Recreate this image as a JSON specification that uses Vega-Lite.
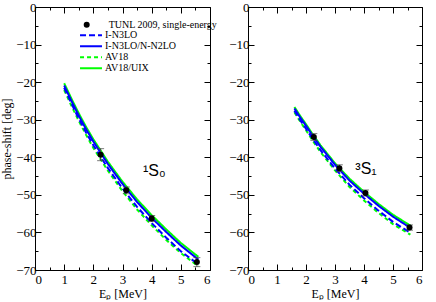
{
"$schema": "https://vega.github.io/schema/vega-lite/v6.json",
"background": "white",
"padding": {"left": 0, "top": 0, "right": 3, "bottom": 0},
"spacing": 9,
"datasets": {
"c1": [
{"E":1.0,"phase":-20.3,"series":"AV18/UIX"},{"E":1.25,"phase":-24.4,"series":"AV18/UIX"},{"E":1.5,"phase":-28.3,"series":"AV18/UIX"},{"E":1.75,"phase":-31.9,"series":"AV18/UIX"},{"E":2.0,"phase":-35.2,"series":"AV18/UIX"},{"E":2.5,"phase":-41.2,"series":"AV18/UIX"},{"E":3.0,"phase":-46.5,"series":"AV18/UIX"},{"E":3.5,"phase":-51.2,"series":"AV18/UIX"},{"E":4.0,"phase":-55.4,"series":"AV18/UIX"},{"E":4.5,"phase":-59.2,"series":"AV18/UIX"},{"E":5.0,"phase":-62.8,"series":"AV18/UIX"},{"E":5.6,"phase":-66.5,"series":"AV18/UIX"},
{"E":1.0,"phase":-22.1,"series":"AV18"},{"E":1.25,"phase":-26.3,"series":"AV18"},{"E":1.5,"phase":-30.3,"series":"AV18"},{"E":1.75,"phase":-34.0,"series":"AV18"},{"E":2.0,"phase":-37.5,"series":"AV18"},{"E":2.5,"phase":-43.6,"series":"AV18"},{"E":3.0,"phase":-49.0,"series":"AV18"},{"E":3.5,"phase":-53.9,"series":"AV18"},{"E":4.0,"phase":-58.1,"series":"AV18"},{"E":4.5,"phase":-62.0,"series":"AV18"},{"E":5.0,"phase":-65.5,"series":"AV18"},{"E":5.6,"phase":-69.0,"series":"AV18"},
{"E":1.0,"phase":-20.9,"series":"I-N3LO/N-N2LO"},{"E":1.25,"phase":-25.0,"series":"I-N3LO/N-N2LO"},{"E":1.5,"phase":-28.9,"series":"I-N3LO/N-N2LO"},{"E":1.75,"phase":-32.5,"series":"I-N3LO/N-N2LO"},{"E":2.0,"phase":-35.8,"series":"I-N3LO/N-N2LO"},{"E":2.5,"phase":-41.8,"series":"I-N3LO/N-N2LO"},{"E":3.0,"phase":-47.1,"series":"I-N3LO/N-N2LO"},{"E":3.5,"phase":-51.9,"series":"I-N3LO/N-N2LO"},{"E":4.0,"phase":-56.1,"series":"I-N3LO/N-N2LO"},{"E":4.5,"phase":-59.9,"series":"I-N3LO/N-N2LO"},{"E":5.0,"phase":-63.5,"series":"I-N3LO/N-N2LO"},{"E":5.6,"phase":-67.2,"series":"I-N3LO/N-N2LO"},
{"E":1.0,"phase":-21.5,"series":"I-N3LO"},{"E":1.25,"phase":-25.7,"series":"I-N3LO"},{"E":1.5,"phase":-29.7,"series":"I-N3LO"},{"E":1.75,"phase":-33.4,"series":"I-N3LO"},{"E":2.0,"phase":-36.8,"series":"I-N3LO"},{"E":2.5,"phase":-42.9,"series":"I-N3LO"},{"E":3.0,"phase":-48.3,"series":"I-N3LO"},{"E":3.5,"phase":-53.2,"series":"I-N3LO"},{"E":4.0,"phase":-57.5,"series":"I-N3LO"},{"E":4.5,"phase":-61.4,"series":"I-N3LO"},{"E":5.0,"phase":-65.0,"series":"I-N3LO"},{"E":5.6,"phase":-68.5,"series":"I-N3LO"}
],
"c2": [
{"E":1.6,"phase":-26.6,"series":"AV18/UIX"},{"E":1.8,"phase":-29.0,"series":"AV18/UIX"},{"E":2.0,"phase":-31.2,"series":"AV18/UIX"},{"E":2.25,"phase":-34.1,"series":"AV18/UIX"},{"E":2.5,"phase":-36.8,"series":"AV18/UIX"},{"E":3.0,"phase":-41.6,"series":"AV18/UIX"},{"E":3.5,"phase":-45.7,"series":"AV18/UIX"},{"E":4.0,"phase":-49.2,"series":"AV18/UIX"},{"E":4.5,"phase":-52.4,"series":"AV18/UIX"},{"E":5.0,"phase":-55.3,"series":"AV18/UIX"},{"E":5.6,"phase":-58.2,"series":"AV18/UIX"},
{"E":1.6,"phase":-28.0,"series":"AV18"},{"E":1.8,"phase":-30.5,"series":"AV18"},{"E":2.0,"phase":-32.8,"series":"AV18"},{"E":2.25,"phase":-35.8,"series":"AV18"},{"E":2.5,"phase":-38.6,"series":"AV18"},{"E":3.0,"phase":-43.5,"series":"AV18"},{"E":3.5,"phase":-47.9,"series":"AV18"},{"E":4.0,"phase":-51.5,"series":"AV18"},{"E":4.5,"phase":-54.8,"series":"AV18"},{"E":5.0,"phase":-57.8,"series":"AV18"},{"E":5.6,"phase":-60.6,"series":"AV18"},
{"E":1.6,"phase":-27.0,"series":"I-N3LO/N-N2LO"},{"E":1.8,"phase":-29.4,"series":"I-N3LO/N-N2LO"},{"E":2.0,"phase":-31.6,"series":"I-N3LO/N-N2LO"},{"E":2.25,"phase":-34.5,"series":"I-N3LO/N-N2LO"},{"E":2.5,"phase":-37.2,"series":"I-N3LO/N-N2LO"},{"E":3.0,"phase":-42.0,"series":"I-N3LO/N-N2LO"},{"E":3.5,"phase":-46.2,"series":"I-N3LO/N-N2LO"},{"E":4.0,"phase":-49.7,"series":"I-N3LO/N-N2LO"},{"E":4.5,"phase":-52.9,"series":"I-N3LO/N-N2LO"},{"E":5.0,"phase":-55.8,"series":"I-N3LO/N-N2LO"},{"E":5.6,"phase":-58.8,"series":"I-N3LO/N-N2LO"},
{"E":1.6,"phase":-27.6,"series":"I-N3LO"},{"E":1.8,"phase":-30.1,"series":"I-N3LO"},{"E":2.0,"phase":-32.4,"series":"I-N3LO"},{"E":2.25,"phase":-35.3,"series":"I-N3LO"},{"E":2.5,"phase":-38.1,"series":"I-N3LO"},{"E":3.0,"phase":-43.0,"series":"I-N3LO"},{"E":3.5,"phase":-47.3,"series":"I-N3LO"},{"E":4.0,"phase":-50.9,"series":"I-N3LO"},{"E":4.5,"phase":-54.2,"series":"I-N3LO"},{"E":5.0,"phase":-57.2,"series":"I-N3LO"},{"E":5.6,"phase":-60.1,"series":"I-N3LO"}
],
"p1": [
{"E":2.25,"phase":-39.3,"lo":-40.9,"hi":-37.7,"series":"TUNL 2009, single-energy"},
{"E":3.13,"phase":-48.8,"lo":-49.7,"hi":-47.9,"series":"TUNL 2009, single-energy"},
{"E":4.0,"phase":-56.3,"lo":-57.1,"hi":-55.5,"series":"TUNL 2009, single-energy"},
{"E":5.55,"phase":-67.9,"lo":-69.1,"hi":-66.7,"series":"TUNL 2009, single-energy"}
],
"p2": [
{"E":2.27,"phase":-34.6,"lo":-35.5,"hi":-33.7,"series":"TUNL 2009, single-energy"},
{"E":3.15,"phase":-42.9,"lo":-43.8,"hi":-42.0,"series":"TUNL 2009, single-energy"},
{"E":4.05,"phase":-49.5,"lo":-50.3,"hi":-48.7,"series":"TUNL 2009, single-energy"},
{"E":5.57,"phase":-58.7,"lo":-59.4,"hi":-58.0,"series":"TUNL 2009, single-energy"}
],
"t1": [{"E":3.7,"phase":-43.6,"label":"¹S₀"}],
"t2": [{"E":3.7,"phase":-43.1,"label":"³S₁"}]
},
"hconcat": [
{
"width": 175, "height": 263,
"resolve": {"axis": {"x": "independent", "y": "independent"}},
"layer": [
{"data": {"name": "c1"}, "mark": {"type": "line", "strokeWidth": 2},
 "encoding": {
  "x": {"field": "E", "type": "quantitative", "scale": {"domain": [0, 6], "nice": false, "zero": false},
        "axis": {"orient": "bottom", "values": [0,1,2,3,4,5,6], "tickSize": -6, "labelPadding": 9, "title": "Eₚ [MeV]", "titlePadding": 2}},
  "y": {"field": "phase", "type": "quantitative", "scale": {"domain": [-70, 0], "nice": false, "zero": false},
        "axis": {"orient": "left", "values": [-70,-60,-50,-40,-30,-20,-10,0], "tickSize": -6, "labelPadding": 5, "title": "phase-shift [deg]", "titlePadding": 2}},
  "color": {"field": "series", "type": "nominal",
    "scale": {"domain": ["I-N3LO","I-N3LO/N-N2LO","AV18","AV18/UIX"], "range": ["#0000ff","#0000ff","#00ff00","#00ff00"]},
    "legend": {"orient": "none", "legendX": 50.5, "legendY": 22.8, "title": null, "symbolType": "M-2.44,0H2.44", "symbolSize": 81, "symbolStrokeWidth": 2, "labelOffset": 8.5, "rowPadding": 0, "padding": 0, "labelFont": "Liberation Serif", "labelFontSize": 10, "labelColor": "black"}},
  "strokeDash": {"field": "series", "type": "nominal",
    "scale": {"domain": ["I-N3LO","I-N3LO/N-N2LO","AV18","AV18/UIX"], "range": [[6,3],[1,0],[4,3],[1,0]]},
    "legend": {"orient": "none", "legendX": 50.5, "legendY": 22.8, "title": null, "symbolType": "M-2.44,0H2.44", "symbolSize": 81, "symbolStrokeWidth": 2, "labelOffset": 8.5, "rowPadding": 0, "padding": 0, "labelFont": "Liberation Serif", "labelFontSize": 10, "labelColor": "black"}}
 }},
{"data": {"name": "p1"}, "mark": {"type": "rule", "color": "#444444", "strokeWidth": 1},
 "encoding": {
  "x": {"field": "E", "type": "quantitative", "axis": {"orient": "bottom", "values": [0.5,1.5,2.5,3.5,4.5,5.5], "tickSize": -3, "labels": false, "title": null}},
  "y": {"field": "lo", "type": "quantitative", "axis": {"orient": "left", "values": [-65,-55,-45,-35,-25,-15,-5], "tickSize": -3, "labels": false, "title": null}},
  "y2": {"field": "hi"}
 }},
{"data": {"name": "p1"}, "mark": {"type": "tick", "orient": "horizontal", "color": "#444444", "size": 7, "thickness": 1},
 "encoding": {
  "x": {"field": "E", "type": "quantitative", "axis": {"orient": "top", "values": [0,1,2,3,4,5,6], "tickSize": -6, "labels": false, "title": null}},
  "y": {"field": "lo", "type": "quantitative", "axis": {"orient": "right", "values": [-70,-60,-50,-40,-30,-20,-10,0], "tickSize": -6, "labels": false, "title": null}}
 }},
{"data": {"name": "p1"}, "mark": {"type": "tick", "orient": "horizontal", "color": "#444444", "size": 7, "thickness": 1},
 "encoding": {
  "x": {"field": "E", "type": "quantitative", "axis": {"orient": "top", "values": [0.5,1.5,2.5,3.5,4.5,5.5], "tickSize": -3, "labels": false, "title": null}},
  "y": {"field": "hi", "type": "quantitative", "axis": {"orient": "right", "values": [-65,-55,-45,-35,-25,-15,-5], "tickSize": -3, "labels": false, "title": null}}
 }},
{"data": {"name": "p1"}, "mark": {"type": "point", "filled": true, "color": "black", "size": 36, "opacity": 1},
 "encoding": {
  "x": {"field": "E", "type": "quantitative", "axis": null},
  "y": {"field": "phase", "type": "quantitative", "axis": null},
  "shape": {"field": "series", "type": "nominal", "scale": {"domain": ["TUNL 2009, single-energy"], "range": ["circle"]},
    "legend": {"orient": "none", "legendX": 46.7, "legendY": 12.8, "title": null, "symbolSize": 36, "symbolFillColor": "black", "symbolStrokeColor": "black", "labelOffset": 17, "padding": 0, "labelFont": "Liberation Serif", "labelFontSize": 10, "labelColor": "black"}}
 }},
{"data": {"name": "t1"}, "mark": {"type": "text", "font": "Liberation Sans", "fontSize": 16, "align": "left", "color": "black"},
 "encoding": {
  "x": {"field": "E", "type": "quantitative", "axis": null},
  "y": {"field": "phase", "type": "quantitative", "axis": null},
  "text": {"field": "label"}
 }}
]
},
{
"width": 174, "height": 263,
"resolve": {"axis": {"x": "independent", "y": "independent"}},
"layer": [
{"data": {"name": "c2"}, "mark": {"type": "line", "strokeWidth": 2},
 "encoding": {
  "x": {"field": "E", "type": "quantitative", "scale": {"domain": [0, 6], "nice": false, "zero": false},
        "axis": {"orient": "bottom", "values": [0,1,2,3,4,5,6], "tickSize": -6, "labelPadding": 9, "title": "Eₚ [MeV]", "titlePadding": 2}},
  "y": {"field": "phase", "type": "quantitative", "scale": {"domain": [-70, 0], "nice": false, "zero": false},
        "axis": {"orient": "left", "values": [-70,-60,-50,-40,-30,-20,-10,0], "tickSize": -6, "labelPadding": 5, "title": null}},
  "color": {"field": "series", "type": "nominal",
    "scale": {"domain": ["I-N3LO","I-N3LO/N-N2LO","AV18","AV18/UIX"], "range": ["#0000ff","#0000ff","#00ff00","#00ff00"]}, "legend": null},
  "strokeDash": {"field": "series", "type": "nominal",
    "scale": {"domain": ["I-N3LO","I-N3LO/N-N2LO","AV18","AV18/UIX"], "range": [[6,3],[1,0],[4,3],[1,0]]}, "legend": null}
 }},
{"data": {"name": "p2"}, "mark": {"type": "rule", "color": "#444444", "strokeWidth": 1},
 "encoding": {
  "x": {"field": "E", "type": "quantitative", "axis": {"orient": "bottom", "values": [0.5,1.5,2.5,3.5,4.5,5.5], "tickSize": -3, "labels": false, "title": null}},
  "y": {"field": "lo", "type": "quantitative", "axis": {"orient": "left", "values": [-65,-55,-45,-35,-25,-15,-5], "tickSize": -3, "labels": false, "title": null}},
  "y2": {"field": "hi"}
 }},
{"data": {"name": "p2"}, "mark": {"type": "tick", "orient": "horizontal", "color": "#444444", "size": 7, "thickness": 1},
 "encoding": {
  "x": {"field": "E", "type": "quantitative", "axis": {"orient": "top", "values": [0,1,2,3,4,5,6], "tickSize": -6, "labels": false, "title": null}},
  "y": {"field": "lo", "type": "quantitative", "axis": {"orient": "right", "values": [-70,-60,-50,-40,-30,-20,-10,0], "tickSize": -6, "labels": false, "title": null}}
 }},
{"data": {"name": "p2"}, "mark": {"type": "tick", "orient": "horizontal", "color": "#444444", "size": 7, "thickness": 1},
 "encoding": {
  "x": {"field": "E", "type": "quantitative", "axis": {"orient": "top", "values": [0.5,1.5,2.5,3.5,4.5,5.5], "tickSize": -3, "labels": false, "title": null}},
  "y": {"field": "hi", "type": "quantitative", "axis": {"orient": "right", "values": [-65,-55,-45,-35,-25,-15,-5], "tickSize": -3, "labels": false, "title": null}}
 }},
{"data": {"name": "p2"}, "mark": {"type": "point", "filled": true, "color": "black", "size": 36, "opacity": 1},
 "encoding": {
  "x": {"field": "E", "type": "quantitative", "axis": null},
  "y": {"field": "phase", "type": "quantitative", "axis": null},
  "shape": {"field": "series", "type": "nominal", "scale": {"domain": ["TUNL 2009, single-energy"], "range": ["circle"]}, "legend": null}
 }},
{"data": {"name": "t2"}, "mark": {"type": "text", "font": "Liberation Sans", "fontSize": 16, "align": "left", "color": "black"},
 "encoding": {
  "x": {"field": "E", "type": "quantitative", "axis": null},
  "y": {"field": "phase", "type": "quantitative", "axis": null},
  "text": {"field": "label"}
 }}
]
}
],
"resolve": {"scale": {"color": "independent", "strokeDash": "independent", "shape": "independent"}, "legend": {"color": "independent", "strokeDash": "independent", "shape": "independent"}},
"config": {
 "view": {"stroke": "black", "strokeWidth": 1},
 "font": "Liberation Serif",
 "axis": {"domain": false, "grid": false, "tickColor": "black", "tickWidth": 1, "labelColor": "black", "labelFont": "Liberation Serif", "labelFontSize": 13, "titleFont": "Liberation Serif", "titleFontSize": 12, "titleFontWeight": "normal", "titleColor": "black"}
}
}
